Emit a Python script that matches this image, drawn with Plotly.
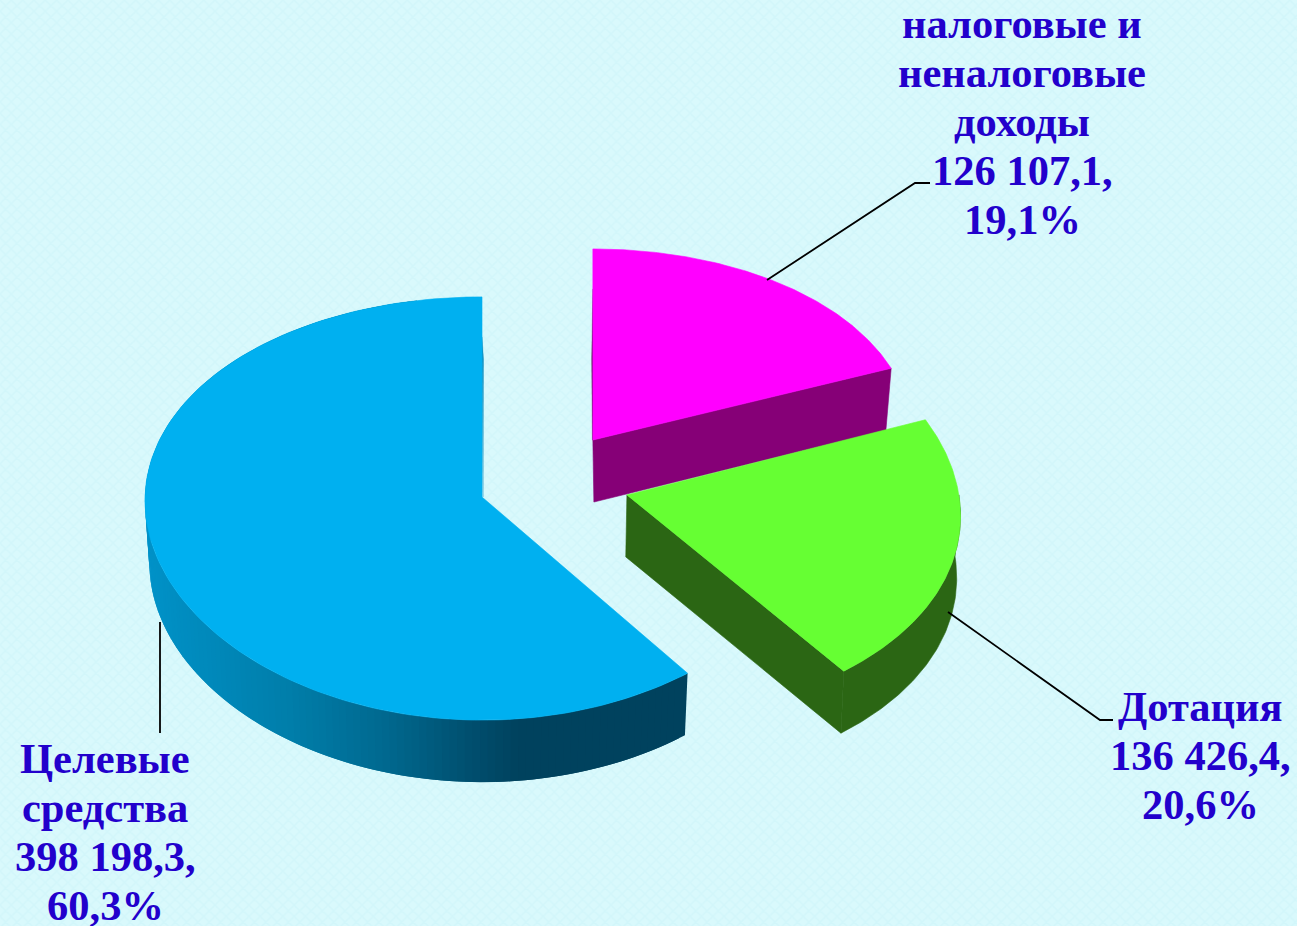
import numpy as np
import plotly.graph_objects as go

# ---- data ----
categories = [["налоговые и", "неналоговые", "доходы"], ["Дотация"], ["Целевые", "средства"]]
values = [126107.1, 136426.4, 398198.3]
value_labels = ["126 107,1,", "136 426,4,", "398 198,3,"]
percent_labels = ["19,1%", "20,6%", "60,3%"]

# ---- styles / projection ----
W, H = 1297, 926
TOP_COLORS = ["#FF00FF", "#66FF33", "#00B0F0"]
SIDE_COLORS = ["#860077", "#2B6614", None]
TEXT = "#2200CC"
CX, CY, RX, RY, PERSP_Y = 482.0, 497.0, 337.0, 211.0, 0.0544
DEPTH, VCX = 62.0, 485.0
# per-slice explode offset (disc units), x/y radius scale, x perspective, lower-rim shrink
OFFSETS = [(0.329, 0.27), (0.43, 0.01), (0.0, 0.0)]
SCALES = [(0.95, 0.955), (0.985, 1.0), (1.0, 1.0)]
PERSP_X = [0.0, 0.1, 0.018]
SHRINK = [0.987, 0.992, 0.987]
LABEL_POS = [(1022, 23), (1200, 706), (105, 758)]
LINE_H = 49
LEADERS = [[(767, 280), (915, 183), (930, 183)],
           [(948, 612), (1100, 720), (1113, 720)],
           [(160, 622), (160, 733)]]
BLUE_STOPS_X = [150, 300, 400, 480, 530, 690]
BLUE_STOPS_C = [(0, 146, 200), (0, 126, 170), (0, 104, 142), (0, 80, 112), (0, 66, 94), (0, 66, 94)]


def project(theta, r, i, low=False):
    ox, oy = OFFSETS[i]
    sxs, sys = SCALES[i]
    c = r * np.cos(theta)
    s = r * np.sin(theta)
    sx = CX + RX * ox + RX * sxs * s / (1 + PERSP_X[i] * c)
    sy = CY - RY * oy - RY * sys * c / (1 + PERSP_Y * c)
    if low:
        sx = VCX + (sx - VCX) * SHRINK[i]
        sy = sy + DEPTH
    return sx, sy


fig = go.Figure()


def poly(xs, ys, color, width=0.6):
    fig.add_trace(go.Scatter(x=list(xs), y=list(ys), mode="lines", fill="toself", fillcolor=color,
                             line=dict(color=color, width=width), hoverinfo="skip", showlegend=False))


# background texture
fig.add_trace(go.Scatter(x=[0, W, W, 0, 0], y=[0, 0, H, H, 0], mode="lines", fill="toself",
                         line=dict(width=0), fillcolor="#D6F7FB",
                         fillpattern=dict(shape="x", size=8, solidity=0.35, fgcolor="#CCF3F8", bgcolor="#D9F9FC"),
                         hoverinfo="skip", showlegend=False))

total = sum(values)
fractions = [v / total for v in values]
starts = np.cumsum([0] + fractions[:-1]) * 2 * np.pi
ends = np.cumsum(fractions) * 2 * np.pi

draw_order = [2, 0, 1]
for i in draw_order:
    t0, t1 = starts[i], ends[i]
    th = np.linspace(t0, t1, 160)
    tx, ty = project(th, 1.0, i)
    ax, ay = project(0.0, 0.0, i)
    bx, by = project(0.0, 0.0, i, low=True)

    if i == 2:
        # blue outer wall, gradient along x; segments overlap to hide seams
        t_edges = np.linspace(t0, np.pi * 1.93, 160)
        step = t_edges[1] - t_edges[0]
        for a in t_edges[-2::-1]:
            seg = np.linspace(a, a + 2 * step, 4)
            x1, y1 = project(seg, 1.0, i)
            x2, y2 = project(seg[::-1], 1.0, i, low=True)
            xm = x1[0]
            c = [np.interp(xm, BLUE_STOPS_X, [s[k] for s in BLUE_STOPS_C]) for k in range(3)]
            col = "rgb(%d,%d,%d)" % tuple(c)
            fig.add_trace(go.Scatter(x=list(np.r_[x1, x2, x1[0]]), y=list(np.r_[y1, y2, y1[0]]), mode="lines",
                                     fill="toself", fillcolor=col, line=dict(width=0),
                                     hoverinfo="skip", showlegend=False))
        # thin inner sliver at the start edge
        ex, ey = project(t1, 1.0, i)
        elx, ely = project(t1, 1.0, i, low=True)
        poly([ex, ex + 1.5, ax + 1, ex], [ey + 40, ely, ay, ey + 40], "#0086B8", 0.3)
    else:
        sx, sy = project(t0, 1.0, i)
        ex, ey = project(t1, 1.0, i)
        elx, ely = project(t1, 1.0, i, low=True)
        side = SIDE_COLORS[i]
        if i == 0:
            # pink: front face from the centre to the arc end, plus thin left sliver
            poly([sx, sx - 1.2, ax - 0.5, ax, sx], [sy + 40, sy + 110, ay, ay, sy + 40], "#5A0050", 0.3)
            poly([ax, ex, elx, bx + 2.4, ax], [ay, ey, ely, by, ay], side)
        else:
            # green: front face and the outer wall
            poly([ax, ex, elx, bx, ax], [ay, ey, ely, by, ay], side)
            rim = np.linspace(np.pi * 0.5, t1, 80)
            x1, y1 = project(rim, 1.0, i)
            x2, y2 = project(rim[::-1], 1.0, i, low=True)
            poly(np.r_[x1, x2, x1[0]], np.r_[y1, y2, y1[0]], side)
    poly(np.r_[ax, tx, ax], np.r_[ay, ty, ay], TOP_COLORS[i])

# leader lines
for pts in LEADERS:
    fig.add_trace(go.Scatter(x=[p[0] for p in pts], y=[p[1] for p in pts], mode="lines",
                             line=dict(color="black", width=1.8), hoverinfo="skip", showlegend=False))

# labels, one annotation per line to keep the tight line spacing
for i in range(3):
    lines = categories[i] + [value_labels[i], percent_labels[i]]
    for j, line in enumerate(lines):
        fig.add_annotation(x=LABEL_POS[i][0], y=LABEL_POS[i][1] + LINE_H * j, xref="x", yref="y",
                           text="<b>%s</b>" % line, showarrow=False, align="center",
                           xanchor="center", yanchor="middle",
                           font=dict(family="Liberation Serif", size=42.5, color=TEXT))

fig.update_layout(width=W, height=H, margin=dict(l=0, r=0, t=0, b=0), paper_bgcolor="#D6F7FB",
                  plot_bgcolor="#D6F7FB", showlegend=False,
                  xaxis=dict(range=[0, W], visible=False, fixedrange=True),
                  yaxis=dict(range=[H, 0], visible=False, fixedrange=True))
fig.write_html("out.html", config=dict(displayModeBar=False),
               post_script="document.body.style.margin='0';document.body.style.overflow='hidden';")
